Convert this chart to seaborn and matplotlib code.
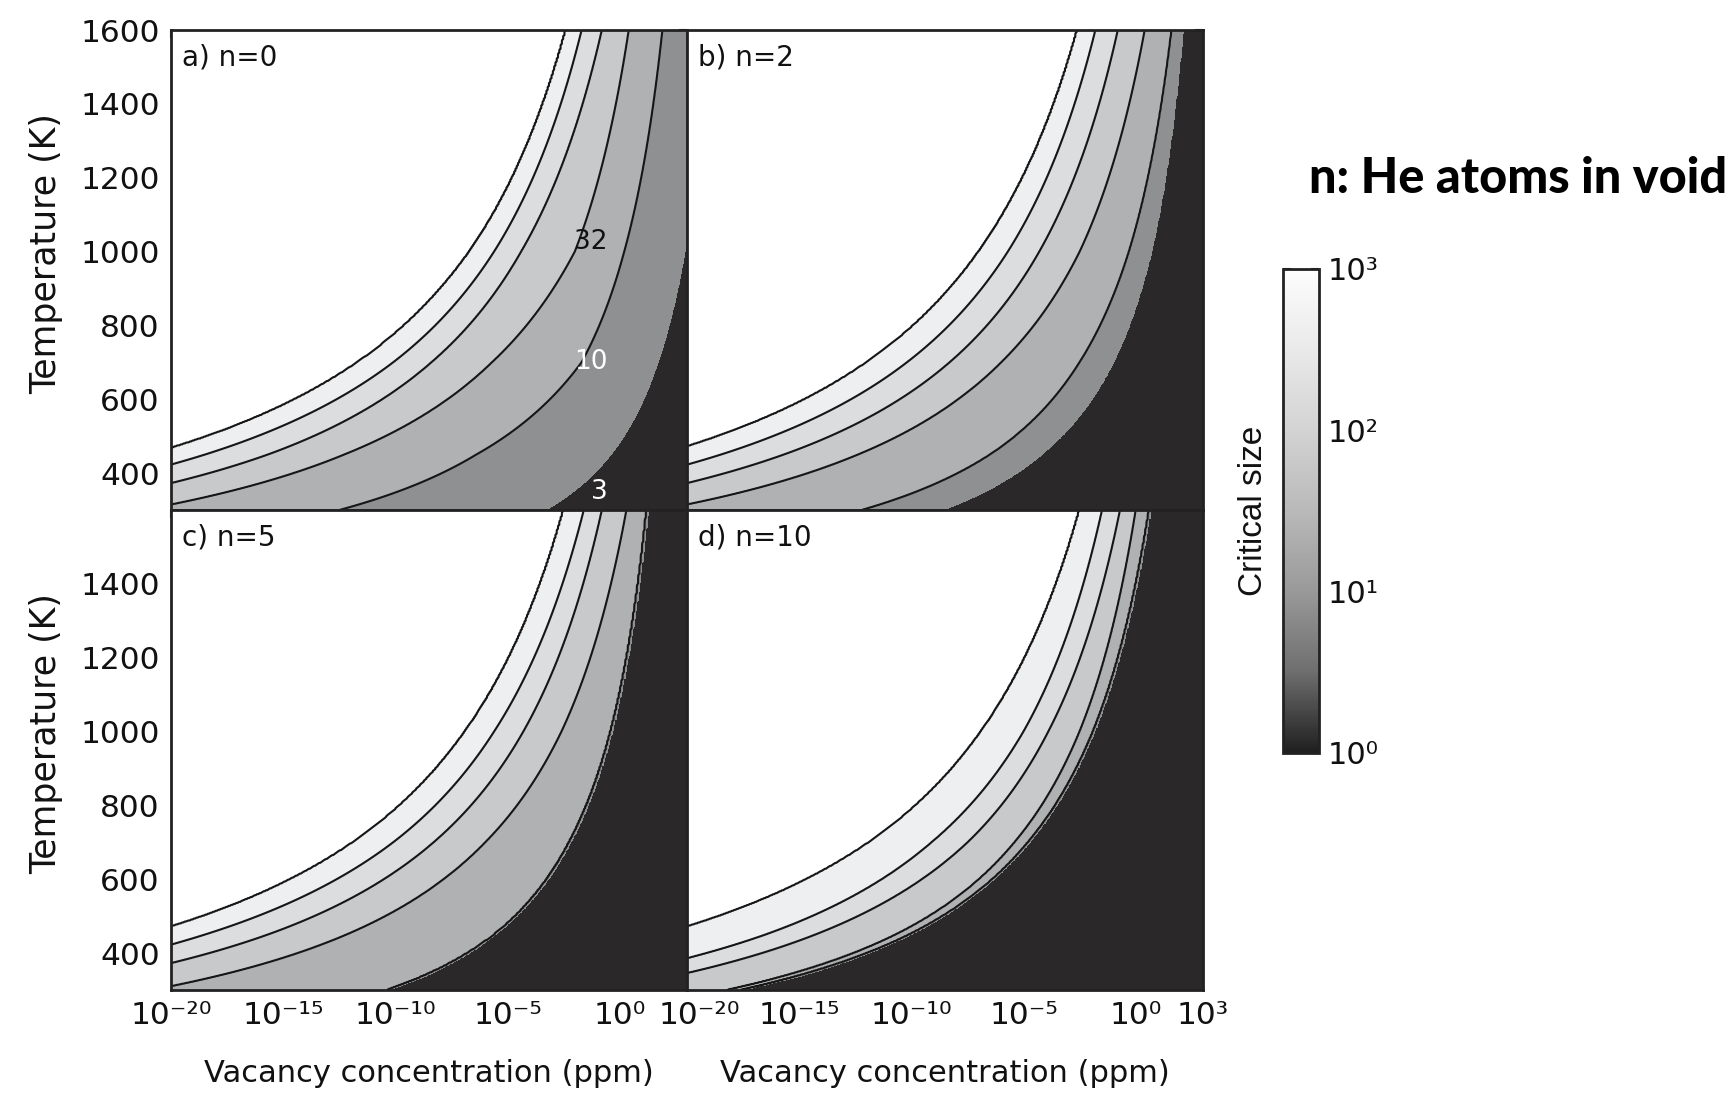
import numpy as np
import matplotlib
matplotlib.use("Agg")
import matplotlib.pyplot as plt
import matplotlib.transforms as mtransforms
import seaborn as sns
from matplotlib.colors import LogNorm
from matplotlib.cm import ScalarMappable
from matplotlib.ticker import FixedLocator, NullFormatter

sns.set_theme(style="white")
plt.rcParams['font.family'] = ['DejaVu Sans']
plt.rcParams['text.color'] = '#111111'
plt.rcParams['axes.labelcolor'] = '#111111'
plt.rcParams['xtick.color'] = '#111111'
plt.rcParams['ytick.color'] = '#111111'

T_SAMPLES = [300, 450, 700, 1000, 1600]
# log10(critical size) of each contour: 1000, 316, 100, 32, 10, 3.2
LEVELS = [3.0, 2.5, 2.0, 1.5, 1.0, 0.5]

# log10(vacancy conc. / ppm) of each contour at T_SAMPLES
BOUNDS_N0 = [
    [-34.0, -21.0, -11.7, -6.7, -2.4],
    [-30.3, -18.5, -10.1, -5.6, -1.7],
    [-26.1, -15.7, -8.4, -4.4, -0.8],
    [-21.3, -12.3, -5.7, -2.0, 0.4],
    [-12.5, -6.4, -1.7, 0.2, 1.9],
    [-3.3, -0.4, 1.7, 2.9, 3.8],
]
BOUNDS_N2 = [
    [-34.1, -21.2, -12.0, -7.0, -2.6],
    [-30.2, -18.5, -10.2, -5.7, -1.8],
    [-26.1, -15.7, -8.3, -4.3, -0.8],
    [-21.3, -12.4, -6.0, -2.5, 0.4],
    [-12.2, -6.5, -2.5, -0.3, 1.6],
    [-8.6, -4.2, -1.0, 0.7, 2.1],
]
BOUNDS_N5 = [
    [-34.2, -21.2, -11.9, -6.9, -2.5],
    [-30.2, -18.5, -10.1, -5.6, -1.6],
    [-26.1, -15.7, -8.3, -4.3, -0.8],
    [-20.9, -12.2, -6.0, -2.6, 0.3],
    [-10.35, -5.6, -2.25, -0.4, 1.2],
    [-10.3, -5.55, -2.2, -0.35, 1.25],
]
BOUNDS_N10 = [
    [-34.3, -21.2, -11.9, -6.9, -2.5],
    [-27.0, -16.5, -9.1, -5.0, -1.5],
    [-23.8, -14.3, -7.5, -3.9, -0.7],
    [-18.2, -10.7, -5.4, -2.5, 0.0],
    [-17.6, -10.1, -4.8, -1.9, 0.6],
    [-17.55, -10.05, -4.75, -1.85, 0.65],
]
PANEL_TITLES = ["a) n=0", "b) n=2", "c) n=5", "d) n=10"]
PANEL_BOUNDS = [BOUNDS_N0, BOUNDS_N2, BOUNDS_N5, BOUNDS_N10]

# contour labels in panel a: text, log10 conc, T, colour
LABELS_N0 = [("32", -1.3, 1025, "#111111"), ("10", -1.3, 700, "white"), ("3", -0.9, 350, "white")]

BAND_COLORS = ["#2b2829", "#8f9092", "#b0b1b3", "#c8c9cb", "#dcdddf", "#eeeff0", "#ffffff"]
CBAR_COLORS = ["#1f1f1f", "#6e6e6e", "#999999", "#b9b9b9", "#d3d3d3", "#e9e9e9", "#fdfdfd"]

X_TICKS = [-20, -15, -10, -5, 0, 3]
X_TICK_LABELS = ["10\u207b\u00b2\u2070", "10\u207b\u00b9\u2075", "10\u207b\u00b9\u2070",
                 "10\u207b\u2075", "10\u2070", "10\u00b3"]
Y_TICKS_TOP = [400, 600, 800, 1000, 1200, 1400, 1600]
Y_TICKS_BOTTOM = [400, 600, 800, 1000, 1200, 1400]
CBAR_TICKS = [1, 10, 100, 1000]
CBAR_LABELS = ["10\u2070", "10\u00b9", "10\u00b2", "10\u00b3"]


def build_field(bounds, xg, Tg):
    ''' Critical size (log10) on a grid, from the contour positions. '''
    inv_s = 1.0 / np.array(T_SAMPLES, dtype=float)[::-1]
    edges = [np.interp(1.0 / Tg, inv_s, np.array(row)[::-1]) for row in bounds]
    Z = np.empty((len(Tg), len(xg)))
    for i in range(len(Tg)):
        xp = [-60.0] + [e[i] for e in edges] + [20.0]
        fp = [3.5] + LEVELS + [-0.5]
        Z[i] = np.interp(xg, xp, fp)
    return Z


fig = plt.figure(figsize=(17.32, 10.95), dpi=100)
L, W = 171 / 1732, 516 / 1732
H = 480 / 1095
B_TOP, B_BOT = 1 - 510 / 1095, 1 - 990 / 1095
positions = [[L, B_TOP, W, H], [L + W, B_TOP, W, H], [L, B_BOT, W, H], [L + W, B_BOT, W, H]]

xg = np.linspace(-40, 6, 800)
Tg = np.linspace(290, 1610, 500)
fill_levels = [-1, 0.5, 1.0, 1.5, 2.0, 2.5, 3.0, 4.0]

for k, (title, bounds) in enumerate(zip(PANEL_TITLES, PANEL_BOUNDS)):
    ax = fig.add_axes(positions[k])
    Z = build_field(bounds, xg, Tg)
    ax.contourf(xg, Tg, Z, levels=fill_levels, colors=BAND_COLORS)
    ax.contour(xg, Tg, Z, levels=[1.0, 1.5, 2.0, 2.5, 3.0], colors="#161616", linewidths=1.5)
    ax.set_xlim(-20, 3)
    ax.set_ylim(300, 1600)
    ax.set_xticks(X_TICKS[:-1])
    ax.set_yticks(Y_TICKS_TOP if k < 2 else Y_TICKS_BOTTOM)
    ax.tick_params(direction="in", top=True, right=True, length=6, width=1.5,
                   color="#222222", labelsize=22.5, pad=8)
    for sp in ax.spines.values():
        sp.set_linewidth(2)
        sp.set_color("#222222")
    ax.text(0.022, 0.972, title, transform=ax.transAxes, ha="left", va="top", fontsize=20)

    if k >= 2:
        if k == 3:
            ax.set_xticks(X_TICKS)
            ax.set_xticklabels(X_TICK_LABELS)
            # nudge the first label off the neighbouring panel's last one
            first = ax.get_xticklabels()[0]
            first.set_transform(first.get_transform() +
                                mtransforms.ScaledTranslation(0.12, 0, fig.dpi_scale_trans))
        else:
            ax.set_xticklabels(X_TICK_LABELS[:-1])
        ax.set_xlabel("Vacancy concentration (ppm)", fontsize=22, labelpad=21)
    else:
        ax.set_xticklabels([])
    if k % 2 == 0:
        ax.set_ylabel("Temperature (K)", fontsize=25)
        ax.yaxis.set_label_coords(-0.209, 0.535)
    else:
        ax.set_yticklabels([])
    ax.grid(False)

    if k == 0:
        for txt, xl, tl, col in LABELS_N0:
            ax.text(xl, tl, txt, color=col, fontsize=19, ha="center", va="center")

# colour bar
cax = fig.add_axes([1283 / 1732, 1 - 753 / 1095, 36 / 1732, 484 / 1095])
cmap = sns.blend_palette(CBAR_COLORS, as_cmap=True)
sm = ScalarMappable(norm=LogNorm(1, 1000), cmap=cmap)
cb = fig.colorbar(sm, cax=cax)
cb.set_ticks(CBAR_TICKS)
cb.set_ticklabels(CBAR_LABELS)
cb.ax.yaxis.set_minor_locator(FixedLocator([10 ** 0.5, 10 ** 1.5, 10 ** 2.5]))
cb.ax.yaxis.set_minor_formatter(NullFormatter())
cb.ax.tick_params(which="both", direction="in", left=True, right=True, length=6, width=1.5,
                  color="#222222", labelsize=22, pad=6)
cb.outline.set_linewidth(2)
cb.outline.set_edgecolor("#222222")
cb.ax.yaxis.set_label_position("left")
cb.set_label("Critical size", fontsize=24, family="Liberation Sans", labelpad=10)

fig.text(0.756, 0.837, "n: He atoms in void", fontsize=35, fontweight="black",
         family="Lato", ha="left", va="center", color="black")

fig.savefig("out.png", dpi=100)
